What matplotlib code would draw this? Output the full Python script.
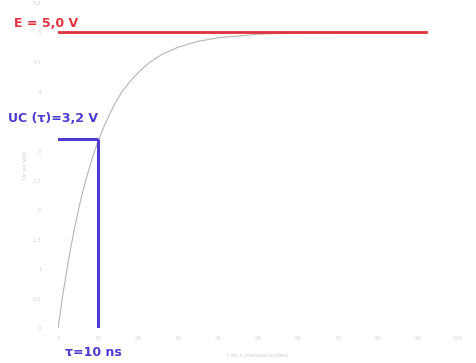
import matplotlib.pyplot as plt

# charge du condensateur
t_ns = [0, 1, 2, 3, 4, 5, 6, 7, 8, 9, 10, 12, 14, 16, 18, 20, 23, 26, 30, 35, 40, 45, 50, 60, 70, 80, 92]
uc_v = [0, 0.48, 0.91, 1.30, 1.65, 1.97, 2.26, 2.52, 2.75, 2.97, 3.16, 3.49, 3.77, 4.00, 4.17, 4.32,
        4.50, 4.63, 4.75, 4.85, 4.91, 4.94, 4.97, 4.99, 5.0, 5.0, 5.0]

E = 5.0
tau = 10
uc_tau = 3.2
x_ticks = [0, 10, 20, 30, 40, 50, 60, 70, 80, 90, 100]
y_ticks = [0, 0.5, 1, 1.5, 2, 2.5, 3, 3.5, 4, 4.5, 5, 5.5]
# 3,5 is covered by the UC(tau) label in the reference
y_ticklabels = ["0", "0,5", "1", "1,5", "2", "2,5", "3", "", "4", "4,5", "5", "5,5"]

fig = plt.figure(figsize=(4.76, 3.63), dpi=100)
ax = fig.add_axes([0.122, 0.096, 0.84, 0.896])

ax.plot(t_ns, uc_v, color="#b4b4b4", lw=0.8)
ax.plot([0, 92], [E, E], color="#e0323c", lw=2)
ax.plot([-0.3, tau], [uc_tau, uc_tau], color="#4b3bd0", lw=2.2, solid_capstyle="butt")
ax.plot([tau, tau], [uc_tau, -0.07], color="#4b3bd0", lw=2.2, solid_capstyle="butt")

ax.set_xlim(0, 100)
ax.set_ylim(0, 5.5)
ax.set_xticks(x_ticks)
ax.set_yticks(y_ticks)
ax.set_xticklabels([str(v) for v in x_ticks])
ax.set_yticklabels(y_ticklabels)
ax.tick_params(length=0, labelsize=4, colors="#d4d4d4")
ax.tick_params(axis="x", pad=6)
ax.tick_params(axis="y", pad=12)
for s in ax.spines.values():
    s.set_visible(False)

ax.set_xlabel("t en s (nanosecondes)", fontsize=4, color="#cccccc", labelpad=8)
ax.set_ylabel("Uc en Volt", fontsize=4, color="#cccccc", labelpad=3)

fig.text(0.03, 0.925, "E = 5,0 V", color="#e0323c", fontsize=9, fontweight="bold")
fig.text(0.017, 0.665, "UC (\u03c4)=3,2 V", color="#4b3bd0", fontsize=9, fontweight="bold")
fig.text(0.137, 0.018, "\u03c4=10 ns", color="#4b3bd0", fontsize=9, fontweight="bold")

fig.savefig("out.png", dpi=100)
